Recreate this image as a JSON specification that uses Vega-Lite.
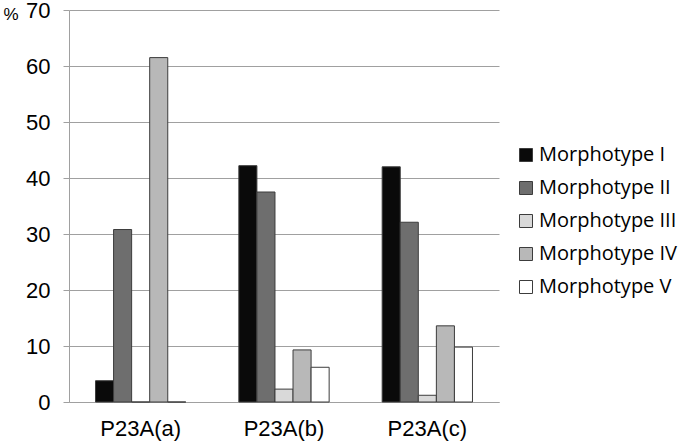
{
  "$schema": "https://vega.github.io/schema/vega-lite/v6.json",
  "width": 430,
  "height": 392,
  "autosize": {"type": "none"},
  "padding": {"left": 69, "top": 10, "right": 181, "bottom": 43},
  "background": "#ffffff",
  "config": {"view": {"stroke": null}, "font": "Liberation Sans"},
  "data": {
    "values": [
      {"sample": "P23A(a)", "morph": "Morphotype I", "value": 3.8},
      {"sample": "P23A(a)", "morph": "Morphotype II", "value": 30.8},
      {"sample": "P23A(a)", "morph": "Morphotype III", "value": 0},
      {"sample": "P23A(a)", "morph": "Morphotype IV", "value": 61.5},
      {"sample": "P23A(a)", "morph": "Morphotype V", "value": 0},
      {"sample": "P23A(b)", "morph": "Morphotype I", "value": 42.2},
      {"sample": "P23A(b)", "morph": "Morphotype II", "value": 37.5},
      {"sample": "P23A(b)", "morph": "Morphotype III", "value": 2.3},
      {"sample": "P23A(b)", "morph": "Morphotype IV", "value": 9.3},
      {"sample": "P23A(b)", "morph": "Morphotype V", "value": 6.2},
      {"sample": "P23A(c)", "morph": "Morphotype I", "value": 42.0},
      {"sample": "P23A(c)", "morph": "Morphotype II", "value": 32.1},
      {"sample": "P23A(c)", "morph": "Morphotype III", "value": 1.2},
      {"sample": "P23A(c)", "morph": "Morphotype IV", "value": 13.6},
      {"sample": "P23A(c)", "morph": "Morphotype V", "value": 9.8}
    ]
  },
  "mark": {"type": "bar", "stroke": "#3c3c3c", "strokeWidth": 1},
  "encoding": {
    "x": {
      "field": "sample",
      "type": "nominal",
      "scale": {"paddingInner": 0.37, "paddingOuter": 0.185},
      "axis": {
        "title": null,
        "labelAngle": 0,
        "labelFontSize": 22,
        "labelColor": "#000000",
        "ticks": false,
        "domainColor": "#a0a0a0",
        "labelPadding": 16,
        "grid": false
      }
    },
    "xOffset": {
      "field": "morph",
      "type": "nominal",
      "sort": ["Morphotype I", "Morphotype II", "Morphotype III", "Morphotype IV", "Morphotype V"],
      "scale": {"paddingInner": 0, "paddingOuter": 0}
    },
    "y": {
      "field": "value",
      "type": "quantitative",
      "scale": {"domain": [0, 70]},
      "axis": {
        "values": [0, 10, 20, 30, 40, 50, 60, 70],
        "title": "%",
        "titleAngle": 0,
        "titleX": -66,
        "titleY": 4,
        "titleAlign": "left",
        "titleBaseline": "middle",
        "titleFontSize": 17,
        "titleFontWeight": "normal",
        "titleColor": "#000000",
        "labelFontSize": 22,
        "labelColor": "#000000",
        "labelPadding": 13,
        "labelDy": 1,
        "tickSize": 6,
        "tickColor": "#a0a0a0",
        "domainColor": "#a0a0a0",
        "gridColor": "#a0a0a0",
        "grid": true
      }
    },
    "fill": {
      "field": "morph",
      "type": "nominal",
      "scale": {
        "domain": ["Morphotype I", "Morphotype II", "Morphotype III", "Morphotype IV", "Morphotype V"],
        "range": ["#0a0a0a", "#6e6e6e", "#d9d9d9", "#b8b8b8", "#ffffff"]
      },
      "legend": {
        "title": null,
        "orient": "none",
        "legendX": 447,
        "legendY": 135,
        "symbolType": "square",
        "symbolSize": 169,
        "symbolStrokeColor": "#3c3c3c",
        "symbolStrokeWidth": 1,
        "labelFont": "Open Sans",
        "labelFontSize": 20,
        "labelColor": "#000000",
        "labelOffset": 3,
        "labelLimit": 0,
        "rowPadding": 13
      }
    }
  }
}
